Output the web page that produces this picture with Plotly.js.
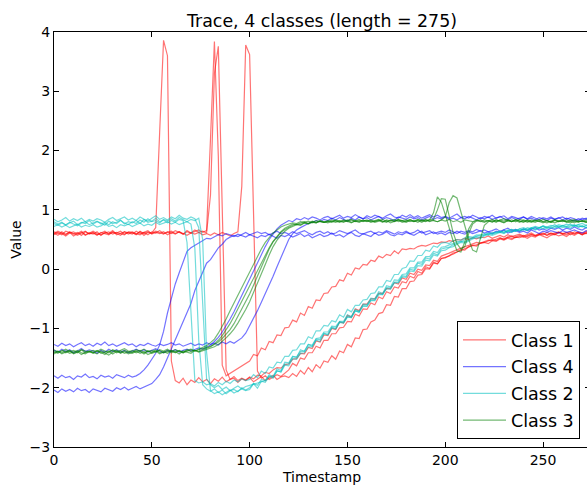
<!DOCTYPE html>
<html>
<head>
<meta charset="utf-8">
<script src="https://cdn.plot.ly/plotly-3.0.1.min.js"></script>
<style>
html,body{margin:0;padding:0;overflow:hidden;background:#fff;}
#chart{width:600px;height:485px;}
</style>
</head>
<body>
<div id="chart"></div>
<script>
// Timestamps (every second sample of the 275-long series)
const timestamp = [0,2,4,6,8,10,12,14,16,18,20,22,24,26,28,30,32,34,36,38,40,42,44,46,48,50,52,54,56,58,60,62,64,66,68,70,72,74,76,78,80,82,84,86,88,90,92,94,96,98,100,102,104,106,108,110,112,114,116,118,120,122,124,126,128,130,132,134,136,138,140,142,144,146,148,150,152,154,156,158,160,162,164,166,168,170,172,174,176,178,180,182,184,186,188,190,192,194,196,198,200,202,204,206,208,210,212,214,216,218,220,222,224,226,228,230,232,234,236,238,240,242,244,246,248,250,252,254,256,258,260,262,264,266,268,270,272,274];

const xTicks = [0,50,100,150,200,250];
const yTicks = [-3,-2,-1,0,1,2,3,4];
const classNames = ['Class 1','Class 4','Class 2','Class 3'];

// Class 1 (red)
const class1_a = [
0.61,0.57,0.63,0.59,0.62,0.56,0.60,0.64,0.58,0.61,
0.59,0.63,0.57,0.62,0.60,0.65,0.58,0.61,0.63,0.59,
0.62,0.58,0.64,0.60,0.63,0.61,0.70,2.30,3.86,3.60,
-1.55,-1.88,-1.92,-1.84,-1.95,-1.87,-1.91,-1.83,-1.90,-1.86,
-1.93,-1.85,-1.89,-1.82,-1.90,-1.86,-1.84,-1.91,-1.85,-1.88,
-1.83,-1.90,-1.86,-1.81,-1.88,-1.84,-1.79,-1.86,-1.82,-1.80,
-1.83,-1.76,-1.81,-1.71,-1.77,-1.66,-1.73,-1.61,-1.67,-1.55,
-1.57,-1.46,-1.52,-1.38,-1.41,-1.27,-1.31,-1.16,-1.17,-1.02,
-1.01,-0.89,-0.86,-0.75,-0.73,-0.60,-0.61,-0.46,-0.47,-0.33,
-0.33,-0.21,-0.20,-0.10,-0.09,0.01,0.00,0.10,0.09,0.18,
0.20,0.22,0.27,0.29,0.33,0.32,0.38,0.40,0.39,0.44,
0.45,0.43,0.48,0.47,0.51,0.49,0.52,0.50,0.54,0.53,
0.55,0.52,0.56,0.54,0.58,0.55,0.53,0.57,0.59,0.56,
0.58,0.55,0.60,0.57,0.61,0.58,0.62,0.59];
const class1_b = [
0.63,0.60,0.58,0.64,0.61,0.59,0.62,0.57,0.63,0.60,
0.62,0.58,0.61,0.64,0.59,0.62,0.60,0.57,0.63,0.61,
0.59,0.64,0.60,0.62,0.58,0.63,0.61,0.65,0.60,0.62,
0.64,0.60,0.63,0.59,0.65,0.61,0.63,0.66,0.62,0.65,
2.20,3.84,1.90,-1.62,-1.80,-1.76,-1.71,-1.68,-1.64,-1.59,
-1.55,-1.44,-1.46,-1.33,-1.36,-1.22,-1.24,-1.11,-1.12,-0.99,
-0.98,-0.86,-0.89,-0.74,-0.78,-0.63,-0.66,-0.52,-0.53,-0.41,
-0.40,-0.30,-0.29,-0.18,-0.20,-0.07,-0.10,0.02,0.00,0.08,
0.07,0.15,0.13,0.22,0.19,0.25,0.23,0.31,0.26,0.34,
0.33,0.35,0.34,0.38,0.40,0.39,0.42,0.44,0.43,0.46,
0.45,0.48,0.47,0.50,0.49,0.52,0.50,0.53,0.51,0.54,
0.53,0.56,0.52,0.55,0.57,0.54,0.58,0.55,0.57,0.59,
0.56,0.58,0.61,0.57,0.60,0.58,0.62,0.59,0.61,0.63,
0.60,0.62,0.58,0.63,0.61,0.59,0.64,0.61];
const class1_c = [
0.58,0.62,0.60,0.56,0.61,0.63,0.59,0.62,0.57,0.60,
0.64,0.60,0.58,0.61,0.63,0.59,0.62,0.60,0.58,0.63,
0.61,0.59,0.63,0.57,0.62,0.60,0.64,0.61,0.59,0.63,
0.60,0.65,0.62,0.59,0.63,0.61,0.66,0.62,0.64,0.61,
1.25,3.30,3.76,0.90,-1.70,-1.86,-1.81,-1.88,-1.84,-1.87,
-1.82,-1.85,-1.79,-1.80,-1.74,-1.76,-1.70,-1.66,-1.67,-1.61,
-1.60,-1.52,-1.51,-1.42,-1.43,-1.32,-1.34,-1.21,-1.23,-1.11,
-1.12,-1.00,-1.02,-0.89,-0.91,-0.78,-0.81,-0.67,-0.70,-0.59,
-0.59,-0.50,-0.50,-0.41,-0.41,-0.33,-0.33,-0.23,-0.25,-0.15,
-0.17,-0.07,-0.09,0.00,-0.02,0.07,0.06,0.15,0.13,0.22,
0.24,0.27,0.30,0.33,0.35,0.38,0.40,0.42,0.45,0.44,
0.47,0.49,0.48,0.51,0.53,0.50,0.54,0.56,0.53,0.55,
0.57,0.55,0.58,0.56,0.59,0.61,0.57,0.60,0.58,0.62,
0.59,0.61,0.63,0.60,0.62,0.58,0.61,0.63];
const class1_d = [
0.60,0.64,0.61,0.58,0.63,0.60,0.57,0.61,0.64,0.59,
0.61,0.57,0.62,0.60,0.58,0.63,0.61,0.64,0.59,0.62,
0.63,0.60,0.58,0.62,0.65,0.59,0.62,0.60,0.63,0.58,
0.62,0.59,0.63,0.60,0.57,0.61,0.59,0.62,0.58,0.60,
0.57,0.61,0.58,0.62,0.59,0.56,0.60,0.63,1.40,3.78,
3.62,0.95,-1.72,-1.84,-1.80,-1.86,-1.82,-1.78,-1.81,-1.75,
-1.70,-1.59,-1.63,-1.50,-1.52,-1.41,-1.41,-1.30,-1.33,-1.20,
-1.20,-1.09,-1.09,-0.99,-0.98,-0.88,-0.89,-0.76,-0.79,-0.67,
-0.68,-0.57,-0.60,-0.47,-0.50,-0.38,-0.41,-0.30,-0.32,-0.21,
-0.23,-0.12,-0.15,-0.04,-0.07,0.04,0.01,0.12,0.09,0.18,
0.19,0.23,0.25,0.29,0.32,0.34,0.37,0.40,0.41,0.44,
0.45,0.47,0.50,0.48,0.52,0.51,0.54,0.52,0.55,0.57,
0.54,0.57,0.59,0.56,0.58,0.60,0.57,0.61,0.59,0.62,
0.60,0.58,0.62,0.59,0.63,0.61,0.60,0.62];

// Class 4 (blue)
const class4_a = [
-1.80,-1.84,-1.79,-1.83,-1.81,-1.86,-1.80,-1.82,-1.77,-1.83,
-1.81,-1.85,-1.79,-1.82,-1.80,-1.84,-1.78,-1.81,-1.83,-1.79,
-1.82,-1.80,-1.76,-1.70,-1.62,-1.52,-1.42,-1.28,-1.05,-0.74,
-0.47,-0.25,-0.06,0.13,0.30,0.36,0.40,0.43,0.47,0.52,
0.51,0.55,0.58,0.56,0.60,0.58,0.55,0.59,0.57,0.54,
0.58,0.56,0.53,0.57,0.55,0.59,0.56,0.52,0.57,0.55,
0.58,0.54,0.57,0.60,0.55,0.58,0.53,0.56,0.59,0.55,
0.57,0.61,0.56,0.58,0.54,0.59,0.62,0.57,0.55,0.60,
0.58,0.55,0.61,0.57,0.59,0.63,0.58,0.56,0.60,0.58,
0.62,0.59,0.57,0.61,0.64,0.58,0.60,0.63,0.59,0.61,
0.58,0.62,0.60,0.64,0.61,0.59,0.63,0.60,0.62,0.65,
0.61,0.63,0.60,0.64,0.62,0.66,0.61,0.63,0.65,0.62,
0.64,0.61,0.66,0.63,0.60,0.64,0.62,0.65,0.63,0.61,
0.65,0.62,0.64,0.66,0.63,0.61,0.65,0.63];
const class4_b = [
-2.04,-2.08,-2.02,-2.06,-2.03,-2.07,-2.01,-2.05,-2.03,-2.08,
-2.02,-2.05,-2.07,-2.01,-2.04,-2.06,-2.00,-2.03,-1.99,-2.04,
-2.01,-1.98,-2.02,-1.99,-1.96,-1.93,-1.86,-1.78,-1.65,-1.50,
-1.35,-1.20,-1.05,-0.90,-0.74,-0.58,-0.36,-0.20,-0.04,0.10,
0.16,0.26,0.36,0.42,0.50,0.54,0.57,0.55,0.59,0.62,
0.58,0.61,0.63,0.60,0.62,0.58,0.61,0.64,0.60,0.62,
0.59,0.63,0.60,0.62,0.65,0.61,0.58,0.62,0.64,0.60,
0.63,0.59,0.61,0.65,0.62,0.60,0.63,0.66,0.61,0.59,
0.62,0.64,0.60,0.63,0.61,0.65,0.62,0.59,0.63,0.61,
0.64,0.60,0.62,0.66,0.61,0.63,0.65,0.60,0.62,0.64,
0.62,0.66,0.63,0.60,0.64,0.62,0.65,0.63,0.67,0.64,
0.66,0.63,0.65,0.68,0.64,0.66,0.69,0.65,0.67,0.64,
0.68,0.65,0.67,0.70,0.66,0.68,0.65,0.69,0.67,0.70,
0.66,0.69,0.67,0.71,0.68,0.66,0.70,0.68];
const class4_c = [
-1.27,-1.30,-1.25,-1.29,-1.26,-1.31,-1.27,-1.24,-1.29,-1.26,
-1.30,-1.25,-1.28,-1.23,-1.29,-1.26,-1.30,-1.27,-1.24,-1.28,
-1.26,-1.31,-1.27,-1.29,-1.25,-1.28,-1.30,-1.26,-1.29,-1.27,
-1.24,-1.28,-1.26,-1.30,-1.27,-1.25,-1.29,-1.26,-1.28,-1.24,
-1.27,-1.25,-1.28,-1.23,-1.26,-1.22,-1.25,-1.20,-1.16,-1.08,
-0.96,-0.84,-0.70,-0.56,-0.42,-0.28,-0.12,0.04,0.20,0.36,
0.50,0.60,0.66,0.70,0.74,0.77,0.79,0.82,0.80,0.84,
0.82,0.86,0.83,0.87,0.84,0.81,0.86,0.83,0.88,0.85,
0.87,0.83,0.86,0.89,0.84,0.87,0.85,0.82,0.88,0.86,
0.84,0.88,0.85,0.87,0.83,0.86,0.89,0.84,0.87,0.85,
0.88,0.84,0.86,0.83,0.87,0.85,0.89,0.86,0.83,0.87,
0.85,0.88,0.84,0.86,0.89,0.85,0.83,0.87,0.84,0.86,
0.88,0.84,0.86,0.83,0.87,0.85,0.82,0.86,0.84,0.87,
0.83,0.86,0.84,0.81,0.85,0.83,0.86,0.82];
const class4_d = [
-1.37,-1.40,-1.35,-1.39,-1.36,-1.41,-1.38,-1.34,-1.39,-1.36,
-1.38,-1.42,-1.37,-1.40,-1.35,-1.39,-1.36,-1.40,-1.37,-1.41,
-1.38,-1.35,-1.39,-1.36,-1.40,-1.37,-1.34,-1.38,-1.41,-1.37,
-1.39,-1.36,-1.40,-1.37,-1.35,-1.38,-1.36,-1.33,-1.35,-1.31,
-1.28,-1.22,-1.15,-1.06,-0.96,-0.84,-0.72,-0.58,-0.44,-0.30,
-0.16,-0.02,0.12,0.26,0.38,0.50,0.60,0.68,0.74,0.78,
0.82,0.80,0.85,0.83,0.87,0.84,0.88,0.86,0.83,0.87,
0.89,0.85,0.88,0.91,0.86,0.89,0.87,0.92,0.88,0.85,
0.90,0.87,0.91,0.88,0.86,0.90,0.93,0.88,0.86,0.91,
0.88,0.92,0.87,0.90,0.86,0.89,0.92,0.88,0.91,0.87,
0.89,0.86,0.90,0.93,0.87,0.89,0.86,0.91,0.88,0.85,
0.89,0.87,0.91,0.86,0.88,0.90,0.85,0.89,0.87,0.84,
0.88,0.85,0.89,0.86,0.83,0.87,0.85,0.88,0.84,0.86,
0.88,0.84,0.87,0.85,0.82,0.86,0.84,0.87];

// Class 2 (cyan)
const class2_a = [
0.80,0.76,0.79,0.74,0.78,0.81,0.75,0.79,0.77,0.82,
0.76,0.80,0.78,0.74,0.81,0.77,0.79,0.83,0.76,0.80,
0.78,0.82,0.77,0.84,0.79,0.81,0.86,0.80,0.83,0.78,
0.82,0.79,0.84,0.82,0.45,-0.75,-1.88,-1.92,-1.90,-1.95,
-1.93,-1.97,-1.91,-1.95,-1.89,-1.93,-1.87,-1.90,-1.85,-1.88,
-1.86,-1.78,-1.83,-1.72,-1.76,-1.65,-1.67,-1.57,-1.58,-1.47,
-1.47,-1.37,-1.36,-1.26,-1.26,-1.14,-1.17,-1.04,-1.04,-0.95,
-0.96,-0.87,-0.89,-0.77,-0.81,-0.68,-0.72,-0.61,-0.61,-0.52,
-0.51,-0.41,-0.40,-0.30,-0.30,-0.19,-0.21,-0.09,-0.09,0.01,
0.03,0.14,0.13,0.23,0.23,0.32,0.30,0.39,0.37,0.44,
0.45,0.43,0.48,0.50,0.49,0.53,0.55,0.54,0.58,0.57,
0.60,0.58,0.62,0.61,0.64,0.62,0.66,0.63,0.67,0.65,
0.68,0.66,0.70,0.67,0.69,0.72,0.68,0.71,0.69,0.73,
0.70,0.72,0.69,0.74,0.71,0.73,0.70,0.74];
const class2_b = [
0.72,0.75,0.71,0.74,0.70,0.73,0.76,0.71,0.74,0.72,
0.75,0.71,0.73,0.77,0.72,0.74,0.70,0.75,0.73,0.76,
0.72,0.75,0.78,0.73,0.76,0.74,0.79,0.75,0.77,0.80,
0.76,0.79,0.75,0.78,0.80,0.76,0.35,-1.20,-1.95,-2.02,
-2.06,-2.02,-2.08,-2.04,-2.10,-2.05,-2.03,-2.07,-2.00,-2.04,
-2.00,-1.93,-1.96,-1.86,-1.88,-1.78,-1.81,-1.68,-1.71,-1.57,
-1.58,-1.47,-1.49,-1.36,-1.39,-1.27,-1.28,-1.17,-1.16,-1.06,
-1.06,-0.96,-0.97,-0.88,-0.88,-0.77,-0.80,-0.68,-0.71,-0.59,
-0.60,-0.49,-0.50,-0.38,-0.41,-0.28,-0.30,-0.18,-0.19,-0.09,
-0.08,0.02,0.02,0.12,0.12,0.21,0.21,0.30,0.28,0.37,
0.38,0.41,0.43,0.47,0.46,0.50,0.53,0.52,0.56,0.58,
0.57,0.61,0.59,0.63,0.62,0.65,0.63,0.67,0.64,0.68,
0.66,0.70,0.68,0.71,0.69,0.73,0.70,0.72,0.75,0.71,
0.74,0.72,0.76,0.73,0.75,0.71,0.74,0.72];
const class2_c = [
0.84,0.80,0.83,0.87,0.81,0.85,0.82,0.86,0.80,0.84,
0.81,0.85,0.83,0.79,0.84,0.87,0.82,0.85,0.88,0.83,
0.86,0.82,0.88,0.84,0.81,0.86,0.90,0.84,0.87,0.83,
0.88,0.85,0.91,0.86,0.84,0.88,0.85,0.70,-0.60,-1.85,
-1.95,-2.00,-1.96,-2.03,-1.99,-2.05,-2.01,-1.97,-2.02,-1.98,
-1.96,-1.94,-1.92,-1.89,-1.88,-1.80,-1.82,-1.72,-1.73,-1.60,
-1.60,-1.48,-1.48,-1.39,-1.38,-1.27,-1.30,-1.18,-1.19,-1.08,
-1.10,-0.98,-1.00,-0.89,-0.90,-0.81,-0.81,-0.70,-0.73,-0.61,
-0.62,-0.52,-0.52,-0.41,-0.43,-0.31,-0.32,-0.22,-0.22,-0.11,
-0.12,0.00,-0.02,0.10,0.08,0.19,0.17,0.27,0.24,0.34,
0.35,0.37,0.41,0.44,0.47,0.46,0.50,0.53,0.55,0.54,
0.58,0.60,0.59,0.62,0.64,0.61,0.65,0.67,0.64,0.68,
0.70,0.67,0.69,0.72,0.70,0.73,0.71,0.74,0.72,0.75,
0.73,0.76,0.74,0.72,0.75,0.77,0.74,0.76];
const class2_d = [
0.77,0.74,0.78,0.75,0.79,0.76,0.73,0.78,0.80,0.75,
0.78,0.81,0.76,0.79,0.75,0.80,0.77,0.82,0.78,0.75,
0.80,0.77,0.83,0.79,0.85,0.80,0.82,0.78,0.84,0.81,
0.85,0.81,0.87,0.83,0.80,0.84,0.82,0.86,0.50,-1.40,
-2.05,-2.10,-2.07,-2.12,-2.08,-2.04,-2.09,-2.06,-2.02,-2.05,
-2.03,-1.93,-2.01,-1.89,-1.91,-1.81,-1.84,-1.71,-1.74,-1.62,
-1.63,-1.51,-1.52,-1.42,-1.41,-1.31,-1.31,-1.20,-1.22,-1.09,
-1.11,-0.99,-1.01,-0.90,-0.91,-0.80,-0.82,-0.71,-0.72,-0.63,
-0.63,-0.53,-0.53,-0.43,-0.43,-0.33,-0.34,-0.23,-0.23,-0.13,
-0.14,-0.03,-0.04,0.06,0.05,0.15,0.14,0.24,0.22,0.31,
0.32,0.36,0.38,0.42,0.45,0.44,0.48,0.51,0.53,0.52,
0.56,0.58,0.57,0.60,0.62,0.60,0.64,0.62,0.66,0.64,
0.67,0.65,0.69,0.66,0.70,0.68,0.71,0.69,0.72,0.70,
0.73,0.70,0.72,0.75,0.71,0.73,0.70,0.74];

// Class 3 (green)
const class3_a = [
-1.39,-1.42,-1.37,-1.41,-1.38,-1.43,-1.40,-1.36,-1.41,-1.39,
-1.42,-1.38,-1.40,-1.44,-1.39,-1.37,-1.41,-1.38,-1.42,-1.40,
-1.37,-1.41,-1.39,-1.43,-1.38,-1.40,-1.36,-1.41,-1.39,-1.42,
-1.38,-1.40,-1.37,-1.41,-1.39,-1.36,-1.38,-1.35,-1.32,-1.29,
-1.24,-1.18,-1.08,-0.97,-0.84,-0.70,-0.57,-0.42,-0.29,-0.16,
-0.03,0.10,0.22,0.34,0.45,0.54,0.61,0.66,0.71,0.74,
0.76,0.78,0.77,0.80,0.79,0.81,0.78,0.82,0.80,0.79,
0.82,0.80,0.83,0.81,0.79,0.82,0.84,0.80,0.82,0.81,
0.83,0.80,0.82,0.84,0.81,0.79,0.83,0.81,0.84,0.82,
0.80,0.83,0.81,0.84,0.82,0.80,0.83,0.95,1.22,1.13,
0.92,0.70,0.48,0.31,0.29,0.46,0.68,0.79,0.82,0.80,
0.83,0.81,0.84,0.80,0.82,0.85,0.81,0.83,0.80,0.84,
0.82,0.79,0.83,0.81,0.84,0.80,0.82,0.79,0.83,0.81,
0.80,0.83,0.81,0.78,0.82,0.80,0.83,0.79];
const class3_b = [
-1.41,-1.38,-1.43,-1.40,-1.37,-1.42,-1.39,-1.44,-1.40,-1.38,
-1.40,-1.43,-1.38,-1.41,-1.45,-1.40,-1.37,-1.42,-1.39,-1.43,
-1.40,-1.38,-1.42,-1.39,-1.44,-1.41,-1.38,-1.43,-1.40,-1.37,
-1.41,-1.39,-1.43,-1.38,-1.40,-1.42,-1.37,-1.39,-1.36,-1.34,
-1.31,-1.26,-1.20,-1.12,-1.03,-0.92,-0.80,-0.67,-0.54,-0.41,
-0.27,-0.14,-0.01,0.12,0.25,0.36,0.47,0.56,0.63,0.69,
0.73,0.76,0.75,0.78,0.80,0.77,0.81,0.79,0.82,0.80,
0.78,0.81,0.79,0.82,0.80,0.83,0.79,0.81,0.84,0.80,
0.82,0.79,0.81,0.83,0.80,0.82,0.78,0.81,0.83,0.79,
0.81,0.84,0.80,0.82,0.79,0.83,0.81,0.84,1.00,1.19,
1.18,0.92,0.62,0.43,0.34,0.38,0.60,0.76,0.81,0.83,
0.80,0.82,0.79,0.83,0.81,0.78,0.82,0.80,0.83,0.81,
0.79,0.82,0.80,0.83,0.81,0.78,0.82,0.80,0.78,0.81,
0.83,0.80,0.78,0.82,0.80,0.81,0.79,0.82];
const class3_c = [
-1.36,-1.40,-1.38,-1.35,-1.39,-1.37,-1.41,-1.36,-1.38,-1.40,
-1.37,-1.39,-1.35,-1.38,-1.41,-1.36,-1.39,-1.37,-1.34,-1.38,
-1.40,-1.36,-1.38,-1.35,-1.39,-1.37,-1.40,-1.36,-1.38,-1.35,
-1.39,-1.36,-1.38,-1.41,-1.37,-1.35,-1.38,-1.36,-1.34,-1.33,
-1.30,-1.27,-1.23,-1.17,-1.10,-1.02,-0.92,-0.80,-0.68,-0.55,
-0.42,-0.27,-0.11,0.05,0.20,0.34,0.46,0.55,0.62,0.67,
0.71,0.74,0.76,0.75,0.78,0.77,0.80,0.78,0.81,0.79,
0.81,0.79,0.82,0.80,0.83,0.81,0.78,0.82,0.80,0.83,
0.80,0.82,0.79,0.81,0.84,0.80,0.82,0.80,0.83,0.81,
0.79,0.82,0.80,0.83,0.81,0.84,0.80,0.82,0.80,0.83,
0.88,1.12,1.24,1.20,0.96,0.72,0.50,0.32,0.29,0.52,
0.74,0.80,0.82,0.79,0.83,0.81,0.84,0.80,0.82,0.79,
0.83,0.81,0.79,0.82,0.80,0.84,0.81,0.79,0.82,0.80,
0.82,0.79,0.81,0.84,0.80,0.82,0.79,0.81];
const class3_d = [
-1.43,-1.39,-1.41,-1.38,-1.42,-1.40,-1.37,-1.41,-1.43,-1.39,
-1.41,-1.37,-1.42,-1.40,-1.38,-1.43,-1.39,-1.41,-1.37,-1.40,
-1.42,-1.39,-1.37,-1.41,-1.38,-1.42,-1.40,-1.37,-1.41,-1.39,
-1.37,-1.41,-1.38,-1.40,-1.36,-1.39,-1.37,-1.40,-1.38,-1.36,
-1.34,-1.31,-1.27,-1.22,-1.16,-1.09,-1.01,-0.91,-0.80,-0.68,
-0.55,-0.40,-0.24,-0.08,0.08,0.24,0.38,0.49,0.57,0.64,
0.69,0.72,0.75,0.74,0.78,0.76,0.79,0.78,0.81,0.79,
0.80,0.83,0.81,0.79,0.82,0.80,0.83,0.81,0.79,0.82,
0.81,0.83,0.80,0.82,0.79,0.83,0.81,0.84,0.80,0.82,
0.83,0.80,0.82,0.79,0.83,0.81,0.84,0.82,0.80,0.83,
0.81,0.84,0.80,0.82,0.79,0.83,0.81,0.80,0.83,0.81,
0.79,0.82,0.80,0.83,0.81,0.79,0.82,0.80,0.84,0.81,
0.80,0.83,0.81,0.79,0.82,0.80,0.78,0.81,0.83,0.80,
0.82,0.80,0.83,0.81,0.79,0.82,0.80,0.78];

const groups = [
  {name: classNames[0], color: 'rgba(255,0,0,0.55)',   series: [class1_a, class1_b, class1_c, class1_d]},
  {name: classNames[1], color: 'rgba(0,0,255,0.55)',   series: [class4_a, class4_b, class4_c, class4_d]},
  {name: classNames[2], color: 'rgba(0,191,191,0.55)', series: [class2_a, class2_b, class2_c, class2_d]},
  {name: classNames[3], color: 'rgba(0,128,0,0.55)',   series: [class3_a, class3_b, class3_c, class3_d]}
];

const traces = [];
groups.forEach(g => {
  g.series.forEach((ys, k) => {
    traces.push({
      type: 'scatter', mode: 'lines', x: timestamp, y: ys,
      name: g.name, legendgroup: g.name, showlegend: k === 0,
      line: {color: g.color, width: 1.2}, hoverinfo: 'skip'
    });
  });
});

const FONT = 'DejaVu Sans, Liberation Sans, sans-serif';
const axisCommon = {
  showgrid: false, zeroline: false, showline: true, linecolor: '#000', linewidth: 1,
  mirror: 'allticks', ticks: 'inside', ticklen: 5, tickwidth: 1, tickcolor: '#000',
  tickfont: {family: FONT, size: 14, color: '#000'}
};

const layout = {
  width: 600, height: 485,
  margin: {l: 54, r: 10, t: 32, b: 38, pad: 0},
  paper_bgcolor: '#fff', plot_bgcolor: '#fff',
  font: {family: FONT, color: '#000'},
  title: {text: 'Trace, 4 classes (length = 275)', font: {family: FONT, size: 17.4, color: '#000'},
          xref: 'paper', x: 0.5, xanchor: 'center', yref: 'container', y: 1 - 21/485, yanchor: 'middle'},
  xaxis: Object.assign({}, axisCommon, {range: [0, 274], tickmode: 'array', tickvals: xTicks,
          title: {text: 'Timestamp', font: {family: FONT, size: 14, color: '#000'}, standoff: 6}}),
  yaxis: Object.assign({}, axisCommon, {range: [-3, 4], tickmode: 'array', tickvals: yTicks,
          title: {text: 'Value', font: {family: FONT, size: 14, color: '#000'}, standoff: 4}}),
  legend: {x: 1 - 10/536, xanchor: 'right', y: 8/415, yanchor: 'bottom',
           bgcolor: '#fff', bordercolor: '#000', borderwidth: 1, itemwidth: 43,
           font: {family: FONT, size: 17.5, color: '#000'}, tracegroupgap: 1, traceorder: 'grouped'},
  showlegend: true
};

Plotly.newPlot('chart', traces, layout, {displayModeBar: false, staticPlot: true});
</script>
</body>
</html>
